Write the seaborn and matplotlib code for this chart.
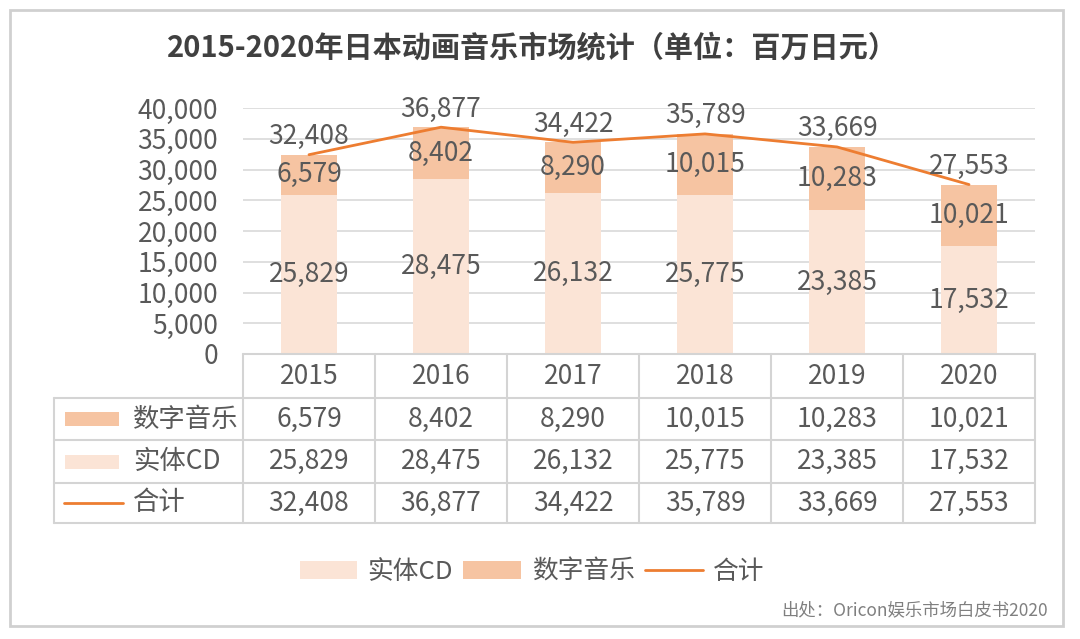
import matplotlib
matplotlib.use("Agg")
import matplotlib.pyplot as plt
import seaborn as sns
import numpy as np
import pandas as pd
from matplotlib.patches import Rectangle
from matplotlib.lines import Line2D

years = ["2015", "2016", "2017", "2018", "2019", "2020"]
digital = [6579, 8402, 8290, 10015, 10283, 10021]
cd = [25829, 28475, 26132, 25775, 23385, 17532]
total = [32408, 36877, 34422, 35789, 33669, 27553]
yticks = [0, 5000, 10000, 15000, 20000, 25000, 30000, 35000, 40000]
title = "2015-2020年日本动画音乐市场统计（单位：百万日元）"
source = "出处：Oricon娱乐市场白皮书2020"
name_cd = "实体CD"
name_dig = "数字音乐"
name_tot = "合计"

sns.set_theme(style="white")
plt.rcParams['font.family'] = ['Noto Sans CJK SC', 'DejaVu Sans']

C_DIG = "#F6C4A2"
C_CD = "#FBE4D6"
C_LINE = "#ED7D31"
C_TXT = "#595959"
C_GRID = "#D9D9D9"
FS = 19

W, H = 1080, 639
fig = plt.figure(figsize=(10.8, 6.39), dpi=100)

def fx(px):
    return px / W

def fy(py):
    return 1 - py / H

# main axes
x0, x1, ytop, ybot = 243, 1035, 108, 354
ax = fig.add_axes([fx(x0), fy(ybot), fx(x1 - x0), (ybot - ytop) / H])
df = pd.DataFrame({"year": years, "cd": cd, "digital": digital, "total": total})
sns.barplot(data=df, x="year", y="cd", color=C_CD, width=0.42, ax=ax,
            saturation=1, zorder=2, linewidth=0, edgecolor="none")
sns.barplot(data=df, x="year", y="digital", bottom=df["cd"], color=C_DIG,
            width=0.42, ax=ax, saturation=1, zorder=2, linewidth=0,
            edgecolor="none")
sns.lineplot(x=np.arange(len(years)), y=total, color=C_LINE, lw=2, ax=ax,
             zorder=3)
ax.set_xlim(-0.5, len(years) - 0.5)
ax.set_ylim(0, 40000)
ax.set_yticks(yticks)
ax.set_yticklabels([f"{v:,}" for v in yticks], fontsize=FS, color=C_TXT)
ax.tick_params(axis='y', pad=18, length=0)
ax.set_xticks([])
ax.set_xlabel("")
ax.set_ylabel("")
for s in ax.spines.values():
    s.set_visible(False)
ax.yaxis.grid(True, color=C_GRID, lw=1.2, zorder=0)
ax.set_axisbelow(True)

for i in range(len(years)):
    ax.annotate(f"{total[i]:,}", (i, total[i]), xytext=(0, 13),
                textcoords="offset points", ha="center", va="center",
                fontsize=FS, color=C_TXT, zorder=5)
    ax.text(i, cd[i] + digital[i] / 2, f"{digital[i]:,}", ha="center",
            va="center", fontsize=FS, color=C_TXT, zorder=5)
    ax.text(i, cd[i] / 2, f"{cd[i]:,}", ha="center", va="center",
            fontsize=FS, color=C_TXT, zorder=5)

# overlay for table, frame, title
ov = fig.add_axes([0, 0, 1, 1], facecolor="none")
ov.set_xlim(0, W)
ov.set_ylim(H, 0)
ov.axis("off")

ov.add_patch(Rectangle((10, 10), 1053, 616, fill=False, ec="#D0D0D0", lw=2))
ov.text(532, 47, title, ha="center", va="center", fontsize=21,
        fontweight="bold", color="#404040")

lc = "#D4D4D4"
rows = [354, 398, 440, 483, 523]
colw = (x1 - x0) / len(years)
ov.plot([x0, x1], [rows[0], rows[0]], color=lc, lw=1.5)
for r in rows[1:]:
    ov.plot([54, x1], [r, r], color=lc, lw=1.5)
ov.plot([54, 54], [rows[1], rows[-1]], color=lc, lw=1.5)
for k in range(len(years) + 1):
    xx = x0 + k * colw
    ov.plot([xx, xx], [rows[0], rows[-1]], color=lc, lw=1.5)

row_vals = [[f"{y}" for y in years],
            [f"{v:,}" for v in digital],
            [f"{v:,}" for v in cd],
            [f"{v:,}" for v in total]]
for r in range(4):
    yc = (rows[r] + rows[r + 1]) / 2
    for k in range(len(years)):
        ov.text(x0 + (k + 0.5) * colw, yc, row_vals[r][k], ha="center",
                va="center", fontsize=FS, color=C_TXT)

labels = [name_dig, name_cd, name_tot]
for r, lab in enumerate(labels, start=1):
    yc = (rows[r] + rows[r + 1]) / 2
    if r == 1:
        ov.add_patch(Rectangle((65, yc - 7), 54, 14, color=C_DIG, lw=0))
    elif r == 2:
        ov.add_patch(Rectangle((65, yc - 7), 54, 14, color=C_CD, lw=0))
    else:
        ov.plot([64, 123], [yc, yc], color=C_LINE, lw=2)
    ov.text(133, yc, lab, ha="left", va="center", fontsize=FS, color=C_TXT)

# bottom legend
handles = [Rectangle((0, 0), 1, 1, color=C_CD, lw=0),
           Rectangle((0, 0), 1, 1, color=C_DIG, lw=0),
           Line2D([0], [0], color=C_LINE, lw=2)]
leg = fig.legend(handles, [name_cd, name_dig, name_tot], loc="center",
                 bbox_to_anchor=(fx(532), fy(572)), ncol=3, frameon=False,
                 fontsize=18.5, handlelength=2.25, handleheight=0.75,
                 columnspacing=0.4, handletextpad=0.4)
for t in leg.get_texts():
    t.set_color(C_TXT)

ov.text(1048, 610, source, ha="right", va="center", fontsize=12.5,
        color="#7F7F7F")

fig.savefig("out.png", dpi=100)
